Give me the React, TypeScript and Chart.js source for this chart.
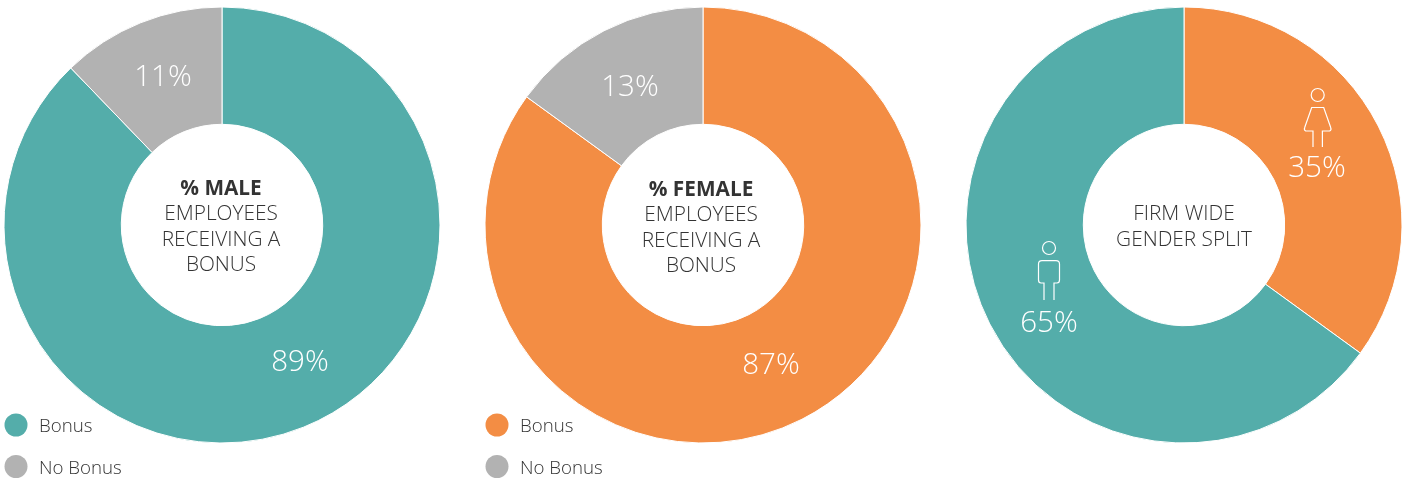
import React, { useEffect, useRef } from "react";
import { Chart, registerables } from "chart.js";

Chart.register(...registerables);

const TEAL = "#54ADAA";
const ORANGE = "#F38D44";
const GREY = "#B2B2B2";

const legendLabels = ["Bonus", "No Bonus"];
const maleValues = [87.8, 12.2];
const femaleValues = [85, 15];
const splitLabels = ["Female", "Male"];
const splitValues = [35, 65];

const maleText = ["89%", "11%"];
const femaleText = ["87%", "13%"];
const splitText = ["35%", "65%"];

const maleCentre = ["% MALE", "EMPLOYEES", "RECEIVING A", "BONUS"];
const femaleCentre = ["% FEMALE", "EMPLOYEES", "RECEIVING A", "BONUS"];
const splitCentre = ["FIRM WIDE", "GENDER SPLIT"];

const FONT = '"Open Sans", sans-serif';

function drawMale(ctx: CanvasRenderingContext2D, x: number, y: number) {
  ctx.beginPath();
  ctx.arc(x, y - 26, 6.5, 0, Math.PI * 2);
  ctx.moveTo(x - 5, y + 26);
  ctx.lineTo(x - 5, y + 9);
  ctx.lineTo(x - 8, y + 9);
  ctx.quadraticCurveTo(x - 10.5, y + 9, x - 10.5, y + 6);
  ctx.lineTo(x - 10.5, y - 10);
  ctx.quadraticCurveTo(x - 10.5, y - 13.3, x - 7, y - 13.3);
  ctx.lineTo(x + 7, y - 13.3);
  ctx.quadraticCurveTo(x + 10.5, y - 13.3, x + 10.5, y - 10);
  ctx.lineTo(x + 10.5, y + 6);
  ctx.quadraticCurveTo(x + 10.5, y + 9, x + 8, y + 9);
  ctx.lineTo(x + 5, y + 9);
  ctx.lineTo(x + 5, y + 26);
  ctx.stroke();
}

function drawFemale(ctx: CanvasRenderingContext2D, x: number, y: number) {
  ctx.beginPath();
  ctx.arc(x, y - 23, 6.5, 0, Math.PI * 2);
  ctx.moveTo(x - 4.7, y + 29);
  ctx.lineTo(x - 4.7, y + 13);
  ctx.lineTo(x - 12, y + 13);
  ctx.quadraticCurveTo(x - 14, y + 12, x - 13, y + 9.5);
  ctx.lineTo(x - 6, y - 10.5);
  ctx.lineTo(x + 6, y - 10.5);
  ctx.lineTo(x + 13, y + 9.5);
  ctx.quadraticCurveTo(x + 14, y + 12, x + 12, y + 13);
  ctx.lineTo(x + 4.7, y + 13);
  ctx.lineTo(x + 4.7, y + 29);
  ctx.stroke();
}

type Deco = {
  centre: string[];
  centreX: number;
  centreY: number;
  boldFirst: boolean;
  marks: { text: string; x: number; y: number }[];
  legendColours?: string[];
  legendX?: number;
  icons?: (ctx: CanvasRenderingContext2D) => void;
};

const decoPlugin = {
  id: "deco",
  afterDraw(chart: any, _args: any, opts: { deco: Deco }) {
    const d = opts.deco;
    const ctx: CanvasRenderingContext2D = chart.ctx;
    ctx.save();
    ctx.textBaseline = "middle";
    ctx.textAlign = "center";
    ctx.fillStyle = "#333333";
    d.centre.forEach((line, i) => {
      ctx.font = `${d.boldFirst && i === 0 ? "700" : "300"} 20.8px ${FONT}`;
      ctx.fillText(line, d.centreX, d.centreY + i * 25.3);
    });
    ctx.fillStyle = "#FFFFFF";
    ctx.font = `300 29.5px ${FONT}`;
    d.marks.forEach((m) => ctx.fillText(m.text, m.x, m.y));
    if (d.icons) {
      ctx.strokeStyle = "#FFFFFF";
      ctx.lineWidth = 1.2;
      d.icons(ctx);
    }
    if (d.legendColours) {
      const lx = d.legendX as number;
      ctx.textAlign = "left";
      legendLabels.forEach((label, i) => {
        const y = 425 + i * 41.5;
        ctx.beginPath();
        ctx.arc(lx, y, 11.5, 0, Math.PI * 2);
        ctx.fillStyle = (d.legendColours as string[])[i];
        ctx.fill();
        ctx.fillStyle = "#333333";
        ctx.font = `300 18.7px ${FONT}`;
        ctx.fillText(label, lx + 23, y + 2);
      });
    }
    ctx.restore();
  },
};

type PanelProps = {
  left: number;
  labels: string[];
  values: number[];
  colours: string[];
  deco: Deco;
};

function Panel({ left, labels, values, colours, deco }: PanelProps) {
  const ref = useRef<HTMLCanvasElement>(null);
  useEffect(() => {
    const chart = new Chart(ref.current as HTMLCanvasElement, {
      type: "doughnut",
      data: {
        labels,
        datasets: [
          {
            data: values,
            backgroundColor: colours,
            borderColor: "#FFFFFF",
            borderWidth: 1,
          },
        ],
      },
      options: {
        responsive: false,
        animation: false,
        cutout: "46.2%",
        devicePixelRatio: 1,
        layout: { padding: { left: 3.5, right: 29.5, top: 6.5, bottom: 37.5 } },
        plugins: {
          legend: { display: false },
          tooltip: { enabled: false },
          deco: { deco },
        } as any,
      },
      plugins: [decoPlugin],
    });
    return () => chart.destroy();
  }, []);
  return (
    <canvas
      ref={ref}
      width={470}
      height={481}
      style={{ position: "absolute", left, top: 0, display: "block" }}
    />
  );
}

export default function App() {
  useEffect(() => {
    document.body.style.margin = "0";
    document.body.style.overflow = "hidden";
  }, []);
  return (
    <div style={{ position: "relative", width: 1410, height: 481, overflow: "hidden", background: "#fff" }}>
      <Panel
        left={0}
        labels={legendLabels}
        values={maleValues}
        colours={[TEAL, GREY]}
        deco={{
          centre: maleCentre,
          centreX: 221,
          centreY: 189,
          boldFirst: true,
          marks: [
            { text: maleText[0], x: 300, y: 363 },
            { text: maleText[1], x: 163, y: 78 },
          ],
          legendColours: [TEAL, GREY],
          legendX: 16,
        }}
      />
      <Panel
        left={481}
        labels={legendLabels}
        values={femaleValues}
        colours={[ORANGE, GREY]}
        deco={{
          centre: femaleCentre,
          centreX: 220,
          centreY: 190,
          boldFirst: true,
          marks: [
            { text: femaleText[0], x: 290, y: 366 },
            { text: femaleText[1], x: 149, y: 88 },
          ],
          legendColours: [ORANGE, GREY],
          legendX: 16,
        }}
      />
      <Panel
        left={962}
        labels={splitLabels}
        values={splitValues}
        colours={[ORANGE, TEAL]}
        deco={{
          centre: splitCentre,
          centreX: 222,
          centreY: 214.5,
          boldFirst: false,
          marks: [
            { text: splitText[0], x: 355, y: 168.5 },
            { text: splitText[1], x: 87, y: 323.5 },
          ],
          icons: (ctx) => {
            drawFemale(ctx, 355.7, 118);
            drawMale(ctx, 87, 274);
          },
        }}
      />
    </div>
  );
}
